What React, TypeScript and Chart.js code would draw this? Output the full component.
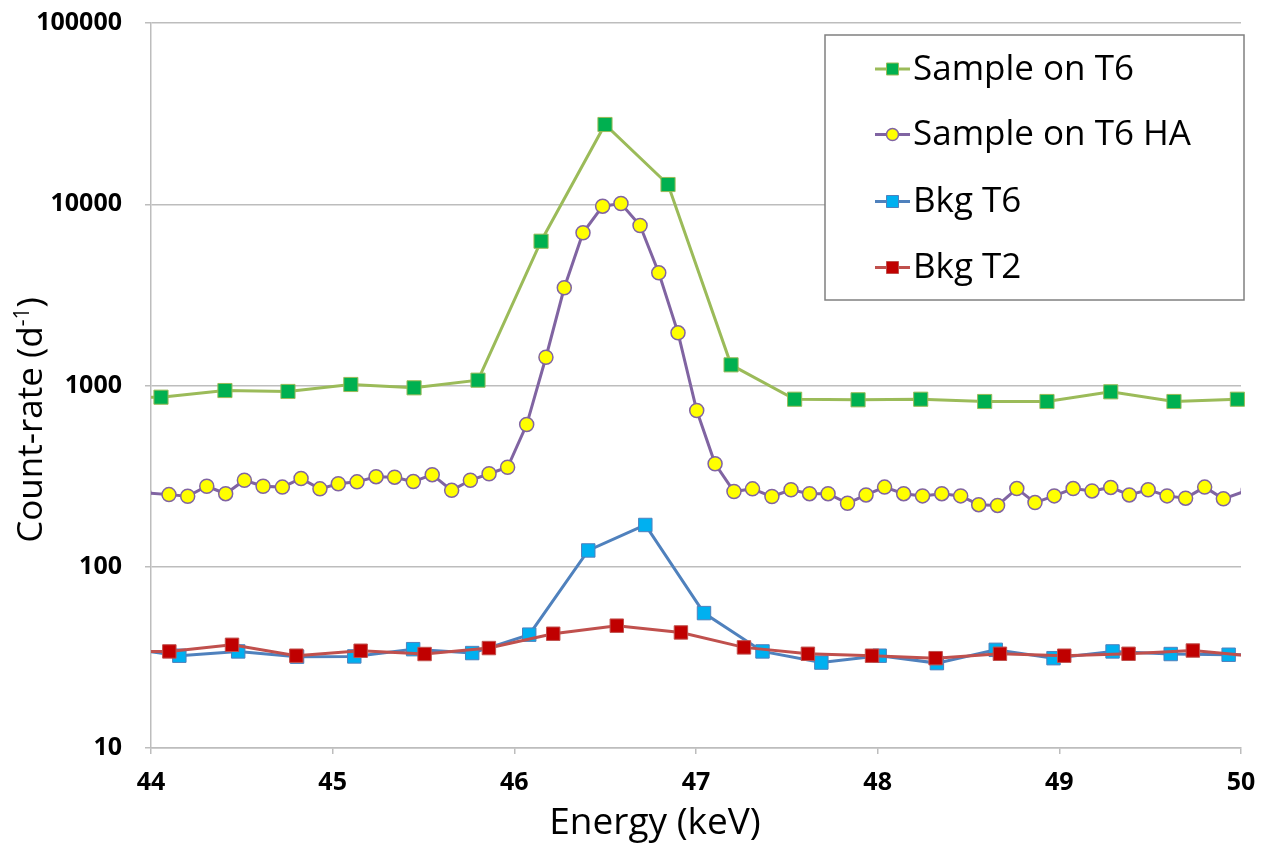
import React, { useEffect, useRef } from 'react';
import { Chart, registerables } from 'chart.js';

Chart.register(...registerables);

// ---- Data ----
const seriesNames = ['Sample on T6', 'Sample on T6 HA', 'Bkg T6', 'Bkg T2'];

const sampleT6Energy = [43.7, 44.055, 44.407, 44.754, 45.1, 45.448, 45.8, 46.147, 46.499, 46.846, 47.193, 47.543, 47.892, 48.237, 48.589, 48.932, 49.283, 49.631, 49.98];
const sampleT6Rate = [855, 862, 938, 927, 1013, 971, 1070, 6252, 27540, 12850, 1300, 840, 834, 840, 816, 816, 923, 816, 840];

const sampleHAEnergy = [
  43.96, 44.099, 44.202, 44.307, 44.411, 44.514, 44.617, 44.723, 44.826, 44.93,
  45.031, 45.134, 45.239, 45.341, 45.444, 45.548, 45.655, 45.758, 45.861, 45.963,
  46.068, 46.174, 46.275, 46.378, 46.486, 46.587, 46.692, 46.795, 46.901, 47.004,
  47.105, 47.209, 47.311, 47.418, 47.523, 47.625, 47.727, 47.834, 47.936, 48.038,
  48.143, 48.247, 48.353, 48.457, 48.556, 48.66, 48.766, 48.866, 48.972, 49.076,
  49.18, 49.283, 49.385, 49.489, 49.593, 49.695, 49.8, 49.903, 50.04,
];
const sampleHARate = [
  256, 250, 245, 278, 253, 300, 278, 275, 307, 269,
  287, 294, 314, 312, 295, 322, 264, 300, 326, 354,
  609, 1432, 3460, 6960, 9755, 10095, 7635, 4185, 1953, 728,
  370, 260, 269, 244, 266, 253, 253, 224, 249, 275,
  253, 246, 253, 246, 220, 218, 270, 226, 246, 270,
  262, 274, 249, 266, 246, 239, 275, 237, 265,
];

const bkgT6Energy = [43.83, 44.156, 44.48, 44.804, 45.119, 45.443, 45.768, 46.082, 46.407, 46.721, 47.044, 47.366, 47.69, 48.011, 48.326, 48.65, 48.968, 49.293, 49.613, 49.932, 50.25];
const bkgT6Rate = [36, 32.3, 34.1, 31.9, 32.0, 35.1, 33.4, 42.2, 123, 170, 55.5, 34.1, 29.6, 32.3, 29.4, 34.8, 31.3, 34.1, 33.0, 32.7, 32.5];

const bkgT2Energy = [43.75, 44.101, 44.446, 44.8, 45.154, 45.506, 45.86, 46.214, 46.564, 46.917, 47.264, 47.616, 47.969, 48.319, 48.673, 49.027, 49.381, 49.735, 50.08];
const bkgT2Rate = [34, 34.1, 37.1, 32.3, 34.4, 33.0, 35.6, 42.7, 47.3, 43.4, 35.9, 33.1, 32.3, 31.3, 33.1, 32.3, 33.1, 34.5, 32];

const xTickValues = [44, 45, 46, 47, 48, 49, 50];
const yTickValues = [10, 100, 1000, 10000, 100000];

const xTitle = 'Energy (keV)';
const yTitleMain = 'Count-rate (d';
const yTitleSup = '-1';
const yTitleEnd = ')';

// ---- Styles ----
const FONT = "'Open Sans', 'Liberation Sans', sans-serif";
const GRID = '#BDBDBD';

const styles = [
  { line: '#9BBB59', fill: '#00B050', border: '#9BBB59', shape: 'rect', radius: 10, bw: 1 },
  { line: '#8064A2', fill: '#FFFF00', border: '#8064A2', shape: 'circle', radius: 7, bw: 1.5 },
  { line: '#4F81BD', fill: '#00B0F0', border: '#4F81BD', shape: 'rect', radius: 9.5, bw: 1 },
  { line: '#C0504D', fill: '#C00000', border: '#C0504D', shape: 'rect', radius: 9.5, bw: 1 },
];

const toPoints = (xs: number[], ys: number[]) => xs.map((x, i) => ({ x, y: ys[i] }));

const overlayPlugin = {
  id: 'overlay',
  afterDraw(chart: any) {
    const ctx: CanvasRenderingContext2D = chart.ctx;
    ctx.save();

    // Legend box
    const bx = 825, by = 35, bw = 419, bh = 265;
    ctx.fillStyle = '#ffffff';
    ctx.fillRect(bx, by, bw, bh);
    ctx.strokeStyle = '#808080';
    ctx.lineWidth = 1.5;
    ctx.strokeRect(bx, by, bw, bh);

    const rows = [69, 134.5, 201.5, 267.5];
    seriesNames.forEach((name, i) => {
      const s = styles[i];
      const cy = rows[i];
      ctx.strokeStyle = s.line;
      ctx.lineWidth = 3;
      ctx.beginPath();
      ctx.moveTo(875, cy);
      ctx.lineTo(910, cy);
      ctx.stroke();
      ctx.fillStyle = s.fill;
      ctx.strokeStyle = s.border;
      ctx.lineWidth = s.bw;
      ctx.beginPath();
      if (s.shape === 'circle') {
        ctx.arc(892.5, cy, 6, 0, Math.PI * 2);
      } else {
        ctx.rect(886.5, cy - 6, 12, 12);
      }
      ctx.fill();
      ctx.stroke();
      ctx.fillStyle = '#000000';
      ctx.font = `35px ${FONT}`;
      ctx.textAlign = 'left';
      ctx.textBaseline = 'middle';
      ctx.fillText(name, 913, cy + 1);
    });

    // X axis title
    ctx.fillStyle = '#000000';
    ctx.font = `37px ${FONT}`;
    ctx.textAlign = 'center';
    ctx.textBaseline = 'alphabetic';
    ctx.fillText(xTitle, 655, 834);

    // Y axis title (rotated, with superscript)
    ctx.translate(42, 420);
    ctx.rotate(-Math.PI / 2);
    const mainFont = `35px ${FONT}`;
    const supFont = `21px ${FONT}`;
    ctx.font = mainFont;
    const w1 = ctx.measureText(yTitleMain).width;
    const w3 = ctx.measureText(yTitleEnd).width;
    ctx.font = supFont;
    const w2 = ctx.measureText(yTitleSup).width;
    const total = w1 + w2 + w3;
    let x0 = -total / 2;
    ctx.textAlign = 'left';
    ctx.font = mainFont;
    ctx.fillText(yTitleMain, x0, 0);
    x0 += w1;
    ctx.font = supFont;
    ctx.fillText(yTitleSup, x0, -13);
    x0 += w2;
    ctx.font = mainFont;
    ctx.fillText(yTitleEnd, x0, 0);

    ctx.restore();
  },
};

export default function App() {
  const ref = useRef<HTMLCanvasElement>(null);

  useEffect(() => {
    const allX = [sampleT6Energy, sampleHAEnergy, bkgT6Energy, bkgT2Energy];
    const allY = [sampleT6Rate, sampleHARate, bkgT6Rate, bkgT2Rate];
    const orders = [3, 2, 1, 0];
    const clips = [
      { left: 0, right: 8, top: 8, bottom: 8 },
      { left: 0, right: 0, top: 8, bottom: 8 },
      { left: 0, right: 0, top: 8, bottom: 8 },
      { left: 0, right: 0, top: 8, bottom: 8 },
    ];
    const datasets = seriesNames.map((label, i) => ({
      label,
      data: toPoints(allX[i], allY[i]),
      borderColor: styles[i].line,
      backgroundColor: styles[i].fill,
      borderWidth: 3,
      pointStyle: styles[i].shape,
      pointRadius: styles[i].radius,
      pointBackgroundColor: styles[i].fill,
      pointBorderColor: styles[i].border,
      pointBorderWidth: styles[i].bw,
      tension: 0,
      order: orders[i],
      clip: clips[i],
    }));

    const chart = new Chart(ref.current as HTMLCanvasElement, {
      type: 'line',
      data: { datasets },
      options: {
        animation: false,
        responsive: false,
        maintainAspectRatio: false,
        events: [],
        layout: { padding: { left: 0, right: 35, top: 23, bottom: 0 } },
        plugins: {
          legend: { display: false },
          tooltip: { enabled: false },
          title: { display: false },
        },
        scales: {
          x: {
            type: 'linear',
            min: 44,
            max: 50,
            afterFit: (scale: any) => {
              scale.height = 99;
              scale.paddingLeft = 0;
              scale.paddingRight = 0;
            },
            afterBuildTicks: (scale: any) => { scale.ticks = xTickValues.map((v) => ({ value: v })); },
            grid: { drawOnChartArea: false, drawTicks: true, tickLength: 6, color: GRID, lineWidth: 1.5 },
            border: { display: true, color: GRID, width: 1.5 },
            ticks: {
              color: '#000000',
              font: { family: FONT, size: 25, weight: 'bold' },
              padding: 14,
              callback: (v: any) => String(v),
            },
          },
          y: {
            type: 'logarithmic',
            min: 10,
            max: 100000,
            afterFit: (scale: any) => {
              scale.width = 151;
              scale.paddingTop = 0;
              scale.paddingBottom = 0;
            },
            afterBuildTicks: (scale: any) => { scale.ticks = yTickValues.map((v) => ({ value: v })); },
            grid: { drawOnChartArea: true, drawTicks: true, tickLength: 6, color: GRID, lineWidth: 1.5 },
            border: { display: true, color: GRID, width: 1.5 },
            ticks: {
              color: '#000000',
              font: { family: FONT, size: 25, weight: 'bold' },
              padding: 23,
              callback: (v: any) => String(v),
            },
          },
        },
      },
      plugins: [overlayPlugin],
    } as any);

    return () => chart.destroy();
  }, []);

  return (
    <div style={{ position: 'fixed', left: 0, top: 0, width: 1276, height: 847, background: '#ffffff' }}>
      <canvas ref={ref} width={1276} height={847} style={{ display: 'block', width: 1276, height: 847 }} />
    </div>
  );
}
